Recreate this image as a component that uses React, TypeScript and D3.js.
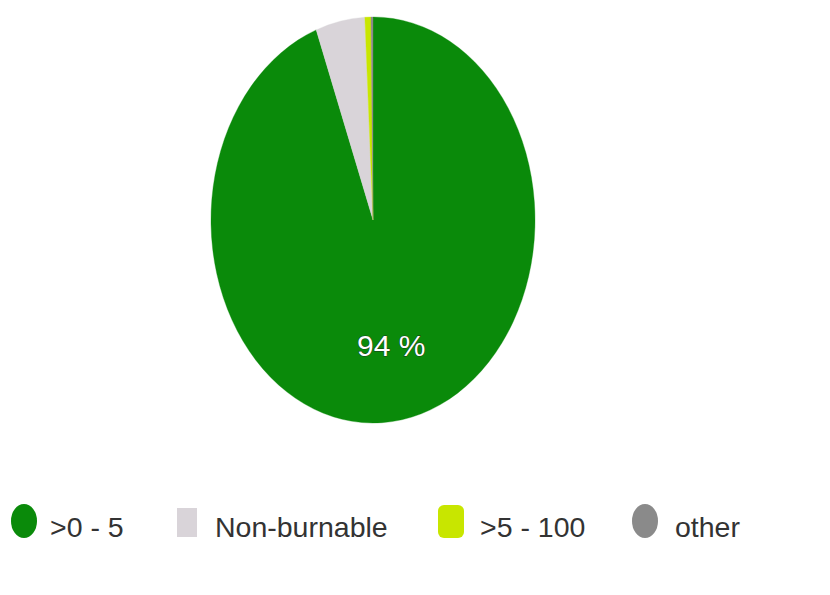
import React from "react";
import * as d3 from "d3";

const categories = [">0 - 5", "Non-burnable", ">5 - 100", "other"];
const values = [94.3, 4.9, 0.6, 0.2];
const colors = ["#0a8a0a", "#d9d4d9", "#c8e600", "#8a8a8a"];
const labelText = "94 %";

const W = 830;
const H = 595;

export default function App() {
  const cx = 373;
  const cy = 220;
  const rx = 162;
  const ry = 203;
  const sy = ry / rx;

  const pie = d3
    .pie<number>()
    .sort(null)
    .startAngle(0)
    .endAngle(2 * Math.PI)
    .value((d) => d);
  const arcs = pie(values);
  const arc = d3.arc<d3.PieArcDatum<number>>().innerRadius(0).outerRadius(rx);
  const labelArc = d3
    .arc<d3.PieArcDatum<number>>()
    .innerRadius(rx * 0.63)
    .outerRadius(rx * 0.63);

  const mainCentroid = labelArc.centroid({ ...arcs[0], startAngle: arcs[0].startAngle, endAngle: arcs[0].endAngle } as any);

  const legendText = [50, 215, 480, 675];
  const legendMarker = [24, 187, 451, 645];
  const legendY = 537;

  return (
    <svg
      width={W}
      height={H}
      style={{ position: "absolute", left: 0, top: 0, background: "#fff" }}
      fontFamily="'Liberation Sans', Arial, sans-serif"
    >
      <rect x={0} y={0} width={W} height={H} fill="#fff" />
      <g transform={`translate(${cx},${cy}) scale(1,${sy})`}>
        {arcs.map((a, i) => (
          <path key={i} d={arc(a) || ""} fill={colors[i]} stroke={colors[i]} strokeWidth={0.3} />
        ))}
      </g>
      <text
        x={cx + mainCentroid[0]}
        y={cy + mainCentroid[1] * sy + 10}
        textAnchor="middle"
        fontSize={30}
        fill="#fff"
        stroke="#1a3a1a"
        strokeWidth={1}
        paintOrder="stroke"
      >
        {labelText}
      </text>
      {categories.map((c, i) => (
        <g key={c}>
          {i === 1 ? (
            <rect x={legendMarker[i] - 10} y={legendY - 29} width={20} height={29} fill={colors[i]} />
          ) : i === 2 ? (
            <rect x={legendMarker[i] - 13} y={legendY - 32} width={26} height={33} rx={6} fill={colors[i]} />
          ) : (
            <ellipse cx={legendMarker[i]} cy={legendY - 16} rx={13} ry={17} fill={colors[i]} />
          )}
          <text x={legendText[i]} y={legendY} fontSize={28.5} fill="#333">
            {c}
          </text>
        </g>
      ))}
    </svg>
  );
}
